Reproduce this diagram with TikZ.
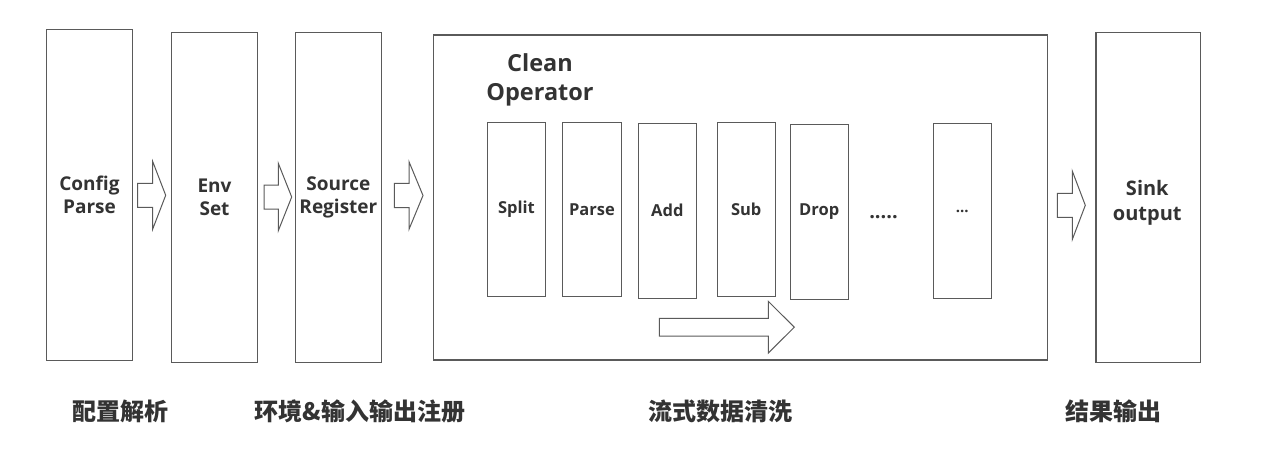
\documentclass[tikz,border=0pt]{standalone}
\usepackage{fontspec}
\setmainfont{Open Sans}
\newfontfamily\cjk{Noto Sans CJK SC}
\definecolor{linegray}{HTML}{5A5A5A}
\definecolor{textgray}{HTML}{333333}
\tikzset{
  stage/.style={draw=linegray, line width=1.2pt, fill=white, inner sep=0pt, align=center,
    text=textgray, font=\bfseries\fontsize{19}{23}\selectfont},
  opbox/.style={draw=linegray, line width=1.1pt, inner sep=0pt, align=center,
    text=textgray, font=\bfseries\fontsize{16.5}{20}\selectfont},
  arrowshape/.style={draw=linegray, line width=1pt, fill=white, line join=miter},
  cnlabel/.style={text=textgray, font=\cjk\bfseries\fontsize{24}{28}\selectfont},
}
% name, x start, x head, x tip, y centre, shaft half, head half
\newcommand\blockarr[7]{%
  \coordinate (#1) at (#3,#5);
  \draw[arrowshape] (#2,#5-#6) -- (#3,#5-#6) -- (#3,#5-#7) -- (#4,#5)
    -- (#3,#5+#7) -- (#3,#5+#6) -- (#2,#5+#6) -- cycle;}
\begin{document}
\begin{tikzpicture}[x=1pt,y=-1pt]
\useasboundingbox (0,0) rectangle (1266,476);
% main stages
\node[stage, minimum width=85.5pt, minimum height=330.5pt] (config) at (89.5,195) {Config\\Parse};
\node[stage, minimum width=85.5pt, minimum height=330pt] (env) at (214.5,197.7) {Env\\Set};
\node[stage, minimum width=85.5pt, minimum height=330pt] (source) at (338.4,197.7) {Source\\Register};
\node[draw=linegray, line width=1.2pt, minimum width=614pt, minimum height=325pt, inner sep=0pt] (clean) at (740.3,197.5) {};
\node[stage, minimum width=104.3pt, minimum height=330pt] (sink) at (1148.2,197.7) {};
\node[text=textgray, font=\bfseries\fontsize{20}{25}\selectfont, align=center] (sinklbl) at (1147.3,203) {Sink\\output};
% title of clean operator
\node[text=textgray, font=\bfseries\fontsize{23.5}{29}\selectfont, align=center] (cleantitle) at (540,80) {Clean\\Operator};
% operators
\node[opbox, minimum width=58.4pt, minimum height=174.4pt] (split) at (516.5,209.5) {\raisebox{-2pt}{Split}};
\node[opbox, minimum width=58.3pt, minimum height=174.4pt] (parse) at (591.9,209.5) {\raisebox{-1pt}{Parse}};
\node[opbox, minimum width=58pt, minimum height=174.7pt] (add) at (667.3,210.7) {Add};
\node[opbox, minimum width=58.3pt, minimum height=174.4pt] (sub) at (746.2,209.5) {Sub};
\node[opbox, minimum width=58.3pt, minimum height=174.6pt] (drop) at (819.2,212) {\raisebox{-1pt}{Drop}};
\node[text=textgray, font=\bfseries\fontsize{20}{20}\selectfont] (dots) at (883.5,217) {.....};
\node[opbox, minimum width=58pt, minimum height=174.7pt, font=\bfseries\fontsize{15}{14}\selectfont] (more) at (962.3,210.7) {\raisebox{-4pt}{...}};
% block arrows
\blockarr{a1}{137.7}{152.7}{165.7}{195.3}{12}{33.8}
\blockarr{a2}{264}{278.3}{291.7}{197}{12}{33.7}
\blockarr{a3}{394.3}{409}{423}{195.5}{12.2}{33.8}
\blockarr{a4}{1057.3}{1072.3}{1085.3}{205.3}{12}{34.2}
\blockarr{flow}{659.3}{768.3}{794.3}{327.2}{8.85}{25.85}
% bottom labels
\node[cnlabel] (l1) at (120,411) {配置解析};
\node[cnlabel] (l2) at (360,411) {环境\&输入输出注册};
\node[cnlabel] (l3) at (720,411) {流式数据清洗};
\node[cnlabel] (l4) at (1113.5,411) {结果输出};
\end{tikzpicture}
\end{document}
